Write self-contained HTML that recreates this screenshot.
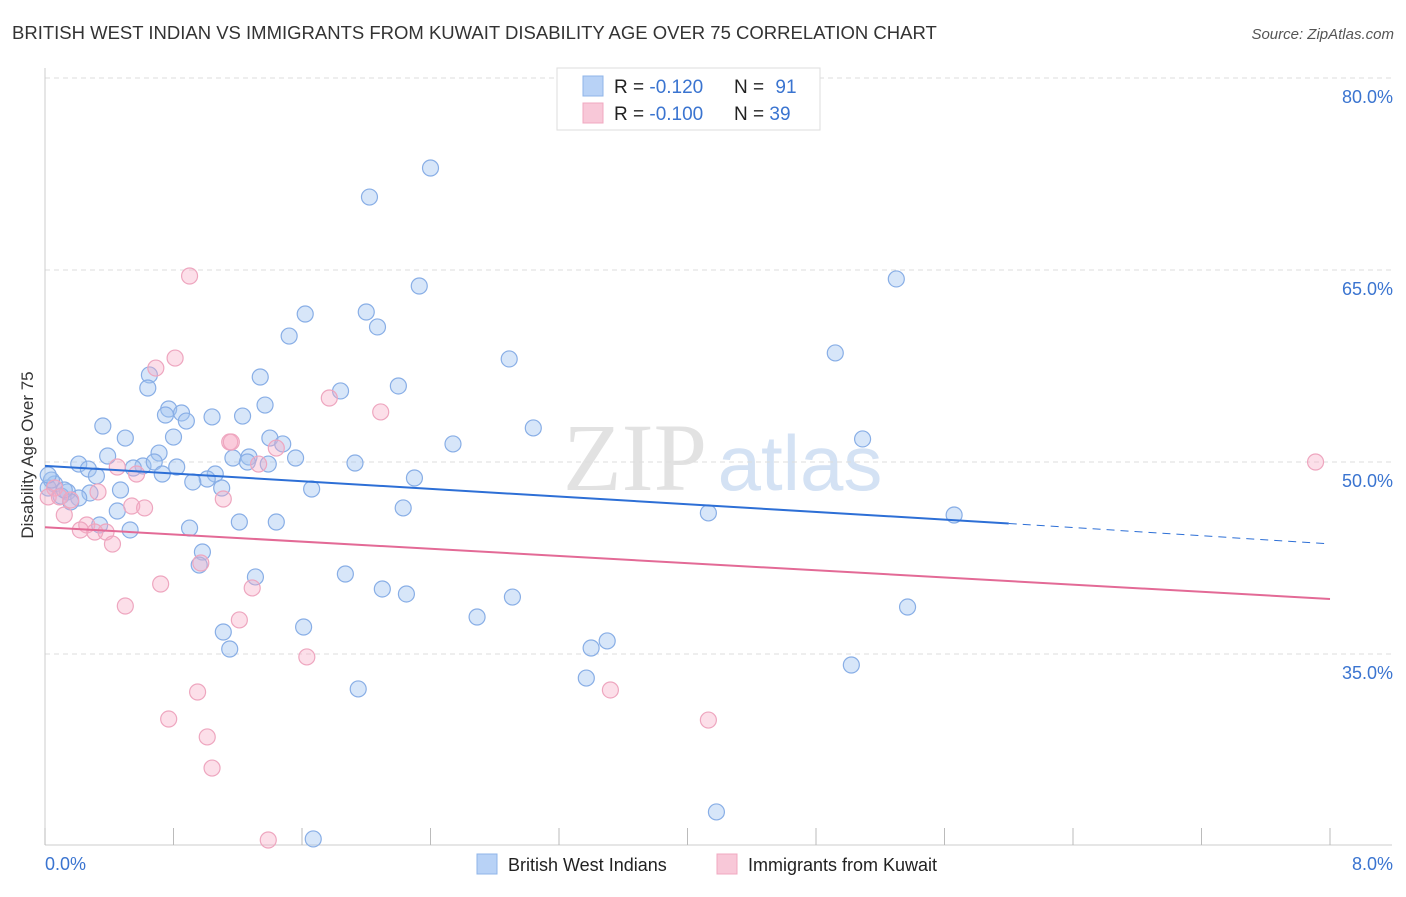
<!DOCTYPE html>
<html><head><meta charset="utf-8"><style>
body{margin:0;background:#fff;font-family:"Liberation Sans",sans-serif;}
svg text{font-family:"Liberation Sans",sans-serif;}
</style></head><body>
<svg id="chart" width="1406" height="892" viewBox="0 0 1406 892">
<text x="12" y="39" font-size="18.5" fill="#333">BRITISH WEST INDIAN VS IMMIGRANTS FROM KUWAIT DISABILITY AGE OVER 75 CORRELATION CHART</text>
<text x="1394" y="39" font-size="15" fill="#555" text-anchor="end" font-style="italic">Source: ZipAtlas.com</text>
<g>
<text x="635" y="490" font-size="96" fill="#e2e2e2" text-anchor="middle" font-family="Liberation Serif" style="font-family:'Liberation Serif',serif">ZIP</text>
<text x="800" y="490" font-size="78" fill="#d4e2f4" text-anchor="middle">atlas</text>
</g>
<g id="grid"></g>
<g id="axes"></g>
<g id="points"></g>
<g id="lines"></g>
<text transform="translate(33,455) rotate(-90)" font-size="17" fill="#333" text-anchor="middle">Disability Age Over 75</text>
<g>
<rect x="557" y="68" width="263" height="62" fill="#fff" stroke="#ddd"/>
<rect x="583" y="76" width="20" height="20" fill="#b8d2f6" stroke="#8fb4e8"/>
<rect x="583" y="103" width="20" height="20" fill="#f8c8d8" stroke="#f0a8c0"/>
<text x="614" y="93" font-size="19" fill="#222">R = <tspan fill="#3a74d0">-0.120</tspan></text>
<text x="734" y="93" font-size="19" fill="#222">N = <tspan fill="#3a74d0" dx="6">91</tspan></text>
<text x="614" y="120" font-size="19" fill="#222">R = <tspan fill="#3a74d0">-0.100</tspan></text>
<text x="734" y="120" font-size="19" fill="#222">N = <tspan fill="#3a74d0">39</tspan></text>
</g>
<g>
<rect x="477" y="854" width="20" height="20" fill="#b8d2f6" stroke="#8fb4e8"/>
<text x="508" y="871" font-size="18" fill="#222">British West Indians</text>
<rect x="717" y="854" width="20" height="20" fill="#f8c8d8" stroke="#f0a8c0"/>
<text x="748" y="871" font-size="18" fill="#222">Immigrants from Kuwait</text>
</g>
</svg>
<script>
const yTicks=[80,65,50,35];
const xTickLabels=["0.0%","8.0%"];
const blueX=[2.40,2.02,2.33,5.30,2.00,1.62,2.07,1.52,4.92,2.89,0.65,1.34,2.20,0.64,1.84,1.37,0.77,0.85,0.75,1.04,1.23,0.88,0.36,3.04,0.50,0.80,1.40,5.09,2.54,1.48,0.71,0.39,1.17,1.56,1.27,0.21,1.93,0.61,0.68,0.27,0.82,1.26,1.39,0.55,0.73,1.06,0.32,2.30,1.01,0.92,0.06,0.14,0.02,0.47,1.10,1.66,0.28,0.21,0.10,0.16,0.45,2.23,4.13,5.66,1.21,1.44,0.34,0.53,0.90,0.98,0.96,1.31,1.87,2.10,2.25,2.91,5.37,2.69,1.61,1.11,3.50,3.40,1.15,5.02,3.37,1.95,4.18,1.67,0.04,0.12,0.02];
const blueY=[72.97,70.70,63.75,64.30,61.72,61.56,60.55,59.84,58.52,58.05,56.80,56.64,55.94,55.78,55.55,54.45,54.14,53.83,53.67,53.52,53.59,53.20,52.81,52.66,51.87,51.95,51.87,51.80,51.41,51.41,50.70,50.47,50.31,50.31,50.39,49.84,49.92,49.69,50.00,49.45,49.61,50.00,49.84,49.53,49.06,49.06,48.91,48.75,48.67,48.44,48.28,47.66,47.97,47.81,47.97,47.89,47.58,47.19,47.34,46.88,46.17,46.41,46.02,45.86,45.31,45.31,45.08,44.69,44.84,42.97,41.95,41.02,41.25,40.08,39.69,39.45,38.67,37.89,37.11,36.72,36.02,35.47,35.39,34.14,33.12,32.27,22.66,20.55,48.59,47.81,48.98];
const pinkX=[0.90,0.81,0.69,1.77,2.09,1.15,1.16,1.44,1.33,0.45,0.57,0.33,0.06,0.02,0.09,0.12,0.54,0.62,0.26,0.22,0.31,0.38,0.42,1.11,0.50,0.72,1.29,0.97,1.21,1.63,0.95,0.77,1.01,1.04,3.52,4.13,7.91,1.39,0.16];
const pinkY=[64.53,58.12,57.34,55.00,53.91,51.56,51.56,51.09,49.84,49.61,49.06,47.66,47.97,47.27,47.27,45.86,46.56,46.41,45.08,44.69,44.53,44.53,43.59,47.11,38.75,40.47,40.16,42.11,37.66,34.77,32.03,29.92,28.52,26.09,32.19,29.84,50.00,20.47,47.03];
const blueTrend=[49.7,45.2,43.6];
const blueTrendX=[0,6.0,8];
const pinkTrend=[44.9,39.3];
const pinkTrendX=[0,8];

const NS="http://www.w3.org/2000/svg";
const sx=v=>45+v*160.625;
const sy=v=>78+(80-v)*12.8;
function mk(tag,attrs,parent){const e=document.createElementNS(NS,tag);for(const k in attrs)e.setAttribute(k,attrs[k]);parent.appendChild(e);return e;}
const grid=document.getElementById('grid'),axes=document.getElementById('axes'),pts=document.getElementById('points'),lines=document.getElementById('lines');
yTicks.forEach(t=>{
 const l=mk('line',{x1:45,x2:1392,y1:sy(t),y2:sy(t),stroke:'#ddd','stroke-dasharray':'5,4'},grid);
 
 
 const tx=mk('text',{x:1393,y:sy(t)+25,'font-size':18,fill:'#3a74d0','text-anchor':'end'},axes);
 tx.textContent=t.toFixed(1)+'%';
 
 
});
const xa=mk('line',{x1:45,x2:1392,y1:845,y2:845,stroke:'#ccc'},axes);


const ya=mk('line',{x1:45,x2:45,y1:68,y2:845,stroke:'#ccc'},axes);


for(let i=0;i<=10;i++){
 const t=mk('line',{x1:sx(i*0.8),x2:sx(i*0.8),y1:828,y2:845,stroke:'#bbb'},axes);
 
 
}
[[0,'start',45],[8,'end',1393]].forEach((d,i)=>{
 const t=mk('text',{x:d[2],y:870,'font-size':18,fill:'#3a74d0','text-anchor':d[1]},axes);
 t.textContent=xTickLabels[i];
 
 
});
function dots(X,Y,fill,stroke,name){
 X.forEach((x,i)=>{
  const c=mk('circle',{cx:sx(x),cy:sy(Y[i]),r:8,fill:fill,stroke:stroke,'stroke-width':1.2},pts);
  
  
 });
}
dots(blueX,blueY,'rgba(160,195,240,0.42)','#88aee6','point-british-west-indian');
dots(pinkX,pinkY,'rgba(246,172,198,0.38)','#eea6bf','point-kuwait');
const bl=mk('line',{x1:sx(blueTrendX[0]),y1:sy(blueTrend[0]),x2:sx(blueTrendX[1]),y2:sy(blueTrend[1]),stroke:'#2d6fd6','stroke-width':2},lines);


const bd=mk('line',{x1:sx(blueTrendX[1]),y1:sy(blueTrend[1]),x2:sx(blueTrendX[2]),y2:sy(blueTrend[2]),stroke:'#2d6fd6','stroke-width':1,'stroke-dasharray':'8,6'},lines);


const pl=mk('line',{x1:sx(pinkTrendX[0]),y1:sy(pinkTrend[0]),x2:sx(pinkTrendX[1]),y2:sy(pinkTrend[1]),stroke:'#e36a96','stroke-width':2},lines);


</script>
</body></html>
